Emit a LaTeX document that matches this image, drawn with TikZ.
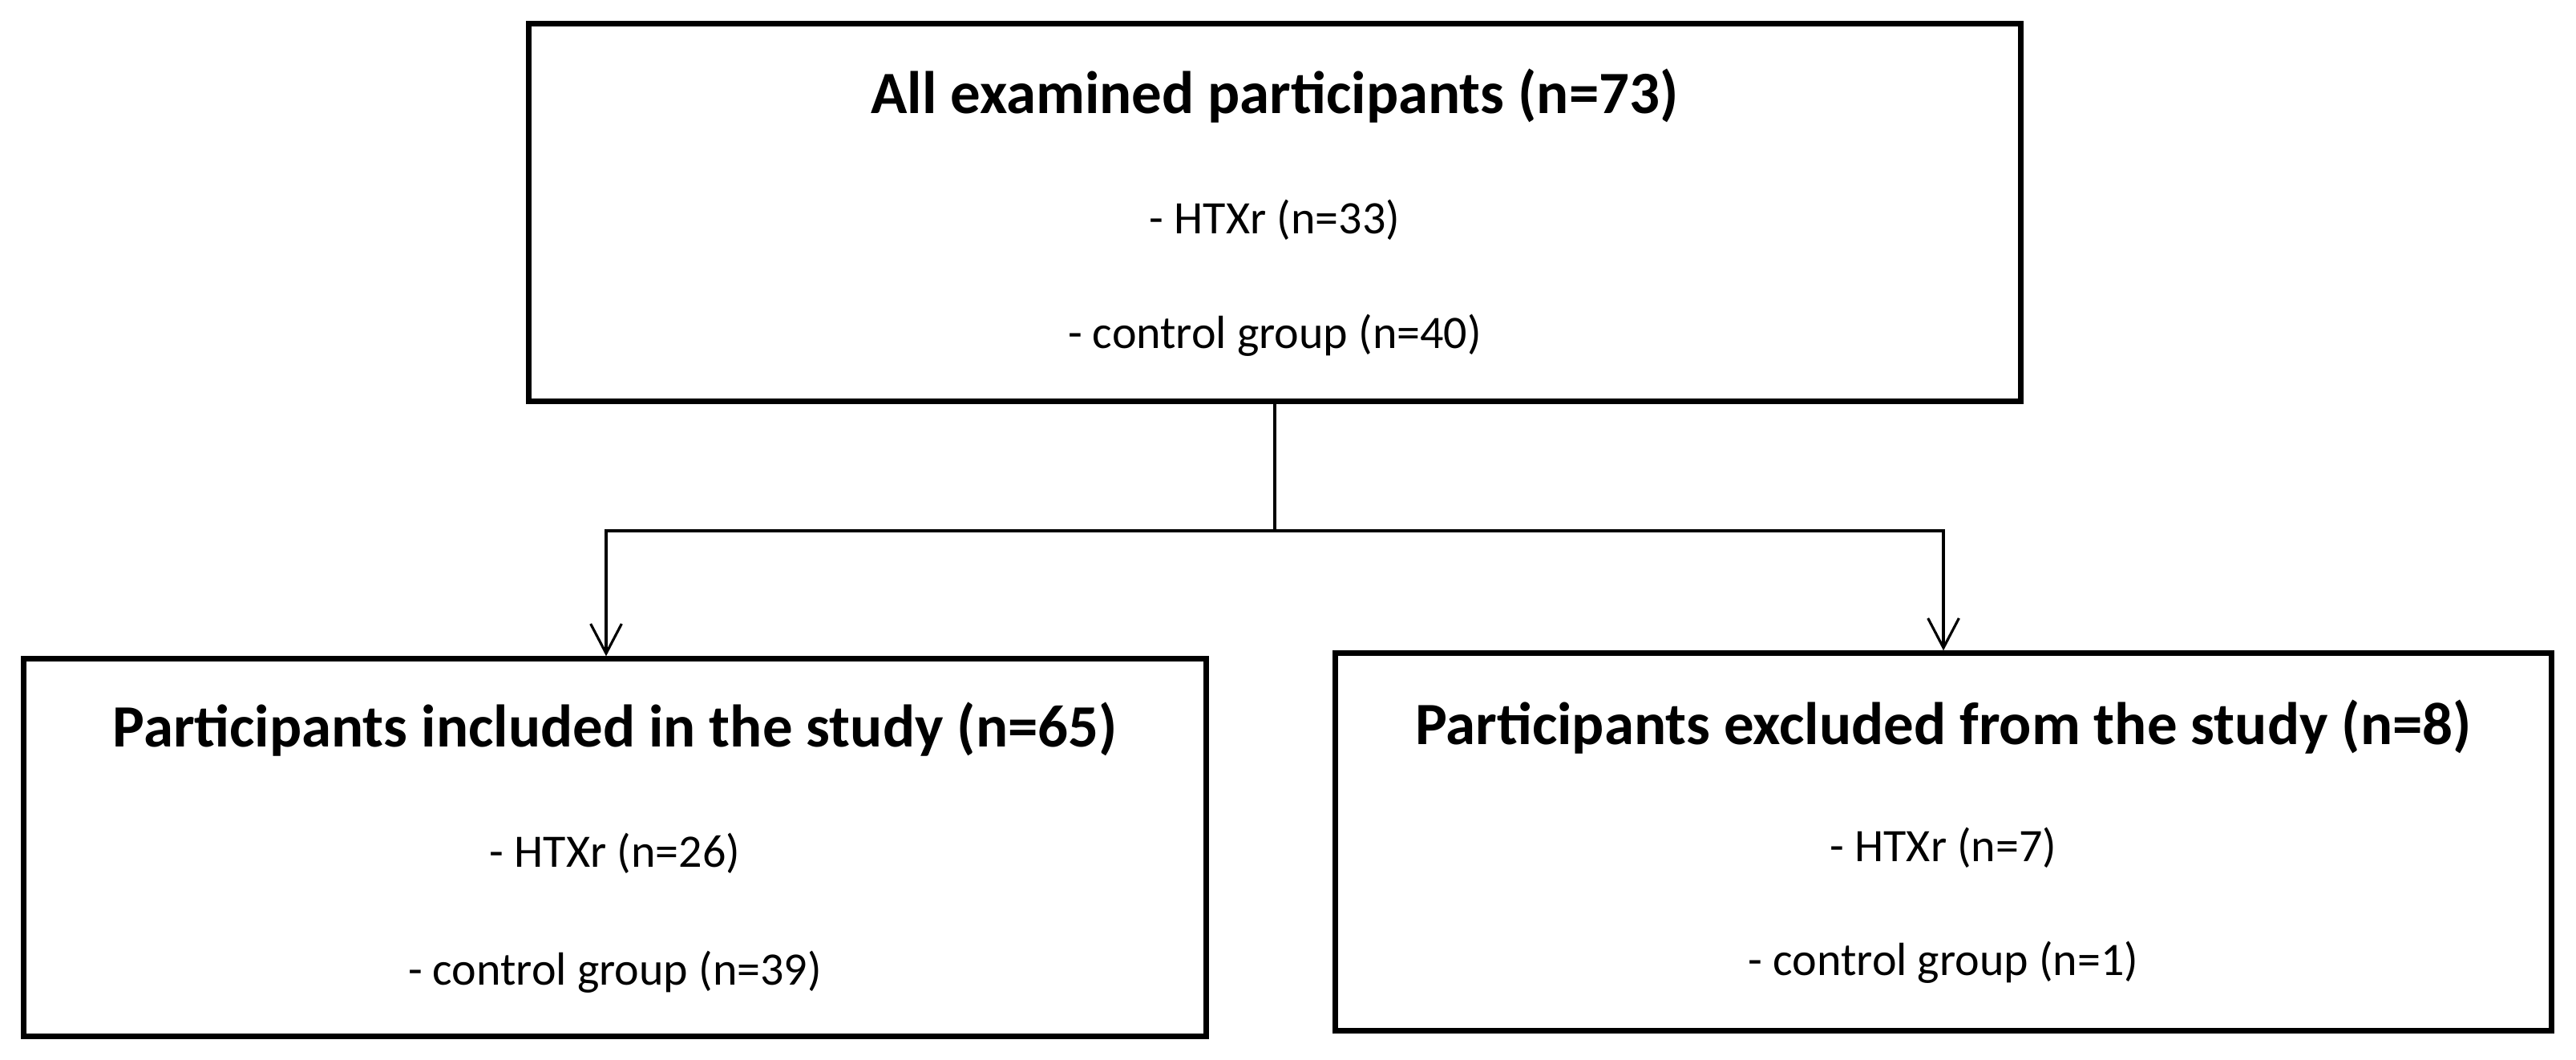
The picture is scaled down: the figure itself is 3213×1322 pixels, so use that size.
\documentclass[tikz,border=0pt]{standalone}
\usepackage{fontspec}
\setmainfont{Carlito}
\usetikzlibrary{arrows.meta}

\begin{document}
\begin{tikzpicture}[x=0.01cm,y=-0.01cm,
    box/.style={draw,line width=2pt,inner sep=0pt,minimum height=4.7cm},
    headline/.style={font=\fontsize{21.3}{25}\selectfont\bfseries,anchor=base},
    item/.style={font=\fontsize{16.5}{20}\selectfont,anchor=base},
    link/.style={line width=0.9pt},
    arrow/.style={link,-{Straight Barb[length=10.5pt,width=11pt,line width=0.9pt]}}]
\useasboundingbox (0,0) rectangle (3213,1322);

% boxes
\node[box,minimum width=18.6cm]  (all)  at (1590,265)  {};
\node[box,minimum width=14.75cm] (incl) at (767,1057)  {};
\node[box,minimum width=15.16cm] (excl) at (2424,1050) {};

% texts
\node[headline] (allt)  at ([yshift=-1.15cm]all.north) {All examined participants (n=73)};
\node[item]     (alla)  at ([yshift=-2.65cm]all.north) {- HTXr (n=33)};
\node[item]     (allb)  at ([yshift=-4.08cm]all.north) {- control group (n=40)};

\node[headline] (inclt) at ([yshift=-1.13cm]incl.north) {Participants included in the study (n=65)};
\node[item]     (incla) at ([yshift=-2.63cm]incl.north) {- HTXr (n=26)};
\node[item]     (inclb) at ([yshift=-4.1cm]incl.north)  {- control group (n=39)};

\node[headline] (exclt) at ([yshift=-1.17cm]excl.north) {Participants excluded from the study (n=8)};
\node[item]     (excla) at ([yshift=-2.63cm]excl.north) {- HTXr (n=7)};
\node[item]     (exclb) at ([yshift=-4.05cm]excl.north) {- control group (n=1)};

% connectors
\coordinate (split) at (1590,662);
\draw[link]  (all.south) -- (split);
\draw[arrow] (split) -| ([xshift=-0.11cm]incl.north);
\draw[arrow] (split) -| (excl.north);

\end{tikzpicture}
\end{document}
